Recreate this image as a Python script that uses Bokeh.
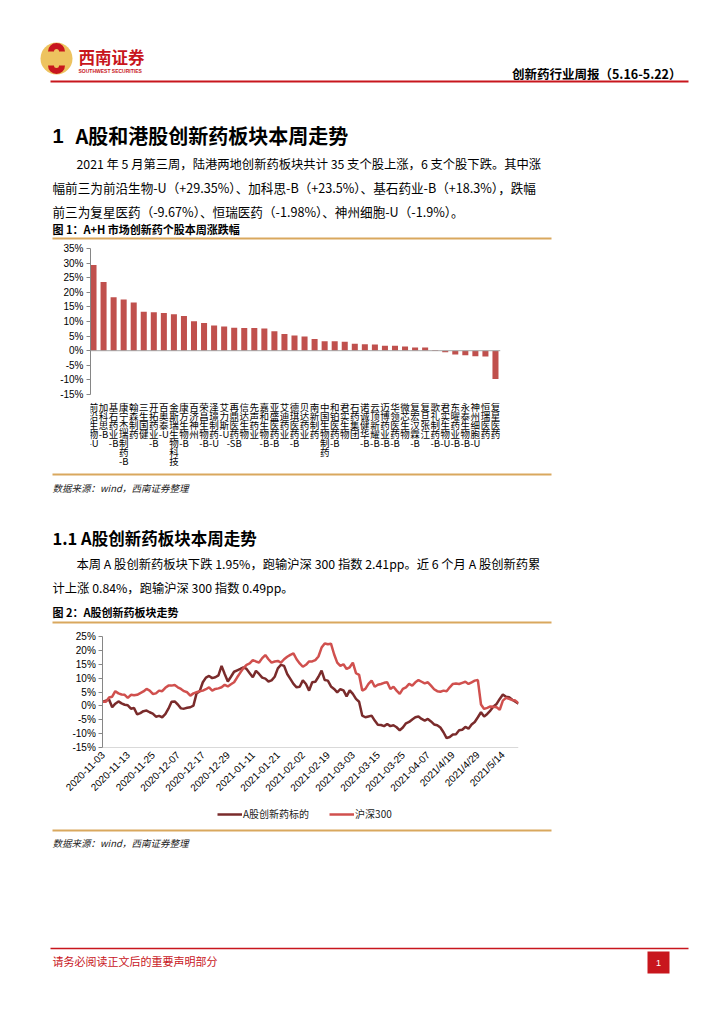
import math
from bokeh.plotting import figure
from bokeh.models import Range1d, FixedTicker, Span, Legend, LegendItem, LabelSet, ColumnDataSource
from bokeh.embed import file_html
from bokeh.resources import INLINE
from bokeh.core.properties import value

CJK = "Noto Sans CJK SC"
LAT = "Liberation Sans"
W = 724

# ---------------- data: figure 1 ----------------
stocks = ["前沿生物-U", "加科思-B", "基石药业-B", "康宁杰瑞制药-B", "翰森制药", "三生国健",
          "开拓药业-B", "百奥泰-U", "金斯瑞生物科技", "康方生物-B", "百济神州", "荣昌生物-B",
          "泽璟制药-U", "艾力斯-U", "再鼎医药-SB", "信达生物", "先声药业", "嘉和生物-B",
          "亚盛医药-B", "艾迪药业", "德琪医药-B", "贝达药业", "南新制药", "中国生物制药",
          "和铂医药-B", "君实生物", "石药集团", "诺诚健华-B", "云顶新耀-B", "迈博药业-B",
          "华领医药-B", "微芯生物", "复宏汉霖-B", "复旦张江", "歌礼制药-B", "君实生物-U",
          "东曜药业-B", "永泰生物-B", "神州细胞-U", "恒瑞医药", "复星医药"]
weekly_chg = [29.35, 23.5, 18.3, 17.5, 16.5, 13.3, 13.2, 12.9, 12.5, 11.9,
              10.1, 9.5, 8.6, 8.3, 7.9, 7.8, 7.8, 7.6, 6.7, 5.7,
              5.2, 4.9, 4.0, 3.2, 3.2, 3.1, 2.4, 2.2, 2.1, 1.7,
              1.7, 1.4, 1.1, 1.1, 0.2, -0.5, -1.3, -1.6, -1.9, -1.98,
              -9.67]
y1_ticks = [-15, -10, -5, 0, 5, 10, 15, 20, 25, 30, 35]

# ---------------- data: figure 2 ----------------
date_labels = ["2020-11-03", "2020-11-13", "2020-11-25", "2020-12-07", "2020-12-17",
               "2020-12-29", "2021-01-11", "2021-01-21", "2021-02-02", "2021-02-19",
               "2021-03-03", "2021-03-15", "2021-03-25", "2021-04-07", "2021/4/19",
               "2021/4/29", "2021/5/14"]
label_every = 8  # trading days between labels
a_share = [1.5, 1.9, 2.3, -0.5, 0.8, 1.6, 0.9, 0.4, 0.2, -1.0,
           -0.8, -3.1, -2.6, -1.9, -1.7, -2.3, -2.8, -3.9, -3.6, -4.1,
           -3.0, -1.0, 1.5, 1.6, 0.5, -0.9, -1.0, -0.7, -0.5, 0.1,
           4.5, 5.3, 8.5, 10.2, 10.8, 10.0, 10.3, 11.0, 14.4, 11.5,
           8.8, 10.5, 12.3, 12.8, 13.3, 13.9, 13.3, 11.8, 10.3, 12.6,
           11.5, 10.2, 9.8, 8.8, 9.2, 10.5, 13.5, 14.8, 14.4, 11.5,
           9.7, 7.9, 6.7, 6.9, 9.2, 7.9, 5.5, 8.5, 8.7, 10.5,
           12.7, 9.3, 9.1, 7.0, 6.1, 4.9, 6.0, 5.6, 3.4, 5.6,
           4.3, 2.5, 1.5, -3.5, -4.1, -3.8, -3.5, -5.3, -6.8, -6.9,
           -7.3, -6.5, -7.3, -7.0, -7.7, -8.8, -7.8, -6.3, -5.8, -4.9,
           -4.1, -3.8, -4.7, -5.3, -4.7, -5.6, -6.7, -7.0, -7.8, -9.5,
           -11.6, -11.2, -10.3, -10.2, -8.8, -8.6, -7.6, -8.2, -6.7, -5.8,
           -4.1, -2.3, -3.8, -2.9, -1.7, -0.2, 0.7, 2.5, 4.1, 3.3,
           3.1, 2.2, 1.5, 0.8]
hs300 = [1.5, 1.5, 3.0, 3.3, 5.3, 4.5, 4.1, 4.0, 2.9, 4.0,
         3.8, 4.0, 4.6, 5.2, 6.1, 5.5, 4.3, 4.5, 5.5, 5.3,
         6.5, 7.3, 7.3, 7.5, 6.7, 6.1, 5.3, 4.9, 3.7, 4.5,
         4.9, 5.3, 5.5, 6.0, 6.7, 5.5, 6.1, 6.3, 6.7, 7.6,
         7.0, 7.8, 8.5, 10.3, 12.0, 13.6, 14.8, 15.3, 16.5, 16.0,
         15.6, 17.2, 18.3, 16.8, 15.6, 16.0, 16.2, 15.6, 16.8, 17.7,
         18.4, 18.9, 16.8, 15.3, 14.1, 14.8, 16.0, 16.0, 16.5, 17.8,
         21.0, 22.5, 22.2, 22.4, 18.6, 15.6, 14.4, 15.0, 13.3, 13.9,
         15.6, 11.8, 11.2, 5.5, 6.1, 7.9, 9.1, 6.9, 7.6, 7.9,
         8.3, 8.5, 6.1, 6.9, 5.5, 4.3, 6.1, 6.7, 7.9, 7.3,
         8.5, 9.3, 8.7, 8.1, 8.5, 7.3, 6.0, 5.3, 5.1, 5.5,
         5.3, 6.7, 7.9, 8.1, 7.9, 8.3, 8.7, 7.9, 8.5, 9.1,
         9.3, 0.5, -1.1, -0.7, -0.2, -0.3, -0.5, -1.4, 1.9, 2.9,
         2.5, 2.1, 1.9, 1.0]
y2_ticks = [-15, -10, -5, 0, 5, 10, 15, 20, 25]
series_names = ["A股创新药标的", "沪深300"]

RED = "#C8161D"
GOLD = "#D9A85E"


def page_fig(top, bottom):
    f = figure(width=W, height=bottom - top, x_range=Range1d(0, W),
               y_range=Range1d(bottom, top), x_axis_type=None, y_axis_type=None,
               toolbar_location=None, output_backend="svg", min_border=0)
    f.outline_line_color = None
    f.grid.visible = False
    return f


def txt(f, x, y, s, size, color="#000000", style="normal", align="left", font=CJK):
    f.text(x=[x], y=[y], text=[s], text_font=value(font), text_font_size=f"{size}px",
           text_font_style=style, text_color=color, text_align=align, text_baseline="middle")


def hline(f, x0, x1, y, color, w):
    f.segment(x0=[x0], y0=[y], x1=[x1], y1=[y], line_color=color, line_width=w)


def style_yaxis(ax, ticks):
    ax.ticker = FixedTicker(ticks=ticks)
    ax.bounds = (min(ticks), max(ticks))
    ax.major_label_overrides = {t: f"{t}%" for t in ticks}
    ax.axis_line_color = "#868686"
    ax.major_tick_line_color = "#868686"
    ax.major_tick_out = 4
    ax.major_tick_in = 0
    ax.minor_tick_line_color = None
    ax.major_label_text_font = LAT
    ax.major_label_text_font_size = "10px"
    ax.major_label_text_color = "#000000"
    ax.major_label_standoff = 3


# ---------------- segment A: header + section 1 text ----------------
A_TOP, A_BOT = 0, 240
fa = page_fig(A_TOP, A_BOT)
fa.circle(x=[56], y=[58], radius=16, fill_color="#EDC35F", line_color=None)
fa.annular_wedge(x=[56], y=[51], inner_radius=2.5, outer_radius=8.5, start_angle=0,
                 end_angle=math.pi, fill_color=RED, line_color=None)
fa.annular_wedge(x=[56], y=[65], inner_radius=2.5, outer_radius=8.5, start_angle=math.pi,
                 end_angle=2 * math.pi, fill_color=RED, line_color=None)
txt(fa, 78, 56, "西南证券", 16.5, RED, "bold")
txt(fa, 78, 70, "SOUTHWEST SECURITIES", 5, RED, "bold", font=LAT)
txt(fa, 681, 73, "创新药行业周报（5.16-5.22）", 12.5, "#000000", "bold", align="right")
hline(fa, 50, 688, 81, RED, 2)
txt(fa, 52, 135, "1", 20, "#000000", "bold", font=LAT)
txt(fa, 75, 135, "A股和港股创新药板块本周走势", 20, "#000000", "bold")
txt(fa, 76, 163, "2021 年 5 月第三周，陆港两地创新药板块共计 35 支个股上涨，6 支个股下跌。其中涨", 12.3)
txt(fa, 52, 187, "幅前三为前沿生物-U（+29.35%）、加科思-B（+23.5%）、基石药业-B（+18.3%），跌幅", 12.6)
txt(fa, 52, 211, "前三为复星医药（-9.67%）、恒瑞医药（-1.98%）、神州细胞-U（-1.9%）。", 12.6)
txt(fa, 52, 228, "图 1：A+H 市场创新药个股本周涨跌幅", 11, "#000000", "bold")
hline(fa, 52, 551, 238, GOLD, 2)

# ---------------- segment B: figure 1 ----------------
idx1 = list(range(len(stocks)))


def vertical(name):
    parts, buf = [], ""
    for ch in name:
        if ord(ch) < 128:
            buf += ch
        else:
            if buf:
                parts.append(buf)
                buf = ""
            parts.append(ch)
    if buf:
        parts.append(buf)
    return "\n".join(parts)


B_TOP, B_BOT = A_BOT, 472
F1_TOP, F1_ZERO15 = 248, 394.0
px1 = (F1_ZERO15 - F1_TOP) / 50.0
y1_start = 35 - (B_BOT - F1_TOP) / px1
p1 = figure(width=W, height=B_BOT - B_TOP, x_range=Range1d(-0.3, 40.5),
            y_range=Range1d(y1_start, 35),
            x_axis_type=None, toolbar_location=None, output_backend="svg",
            min_border_left=90, min_border_right=W - 500, min_border_top=F1_TOP - B_TOP,
            min_border_bottom=0)
p1.outline_line_color = None
p1.grid.visible = False
style_yaxis(p1.yaxis[0], y1_ticks)
p1.add_layout(Span(location=0, dimension="width", line_color="#A6A6A6", line_width=1))
p1.vbar(x=idx1, top=weekly_chg, width=0.6, fill_color="#C0504D", line_color=None)
p1.text(x=idx1, y=[-16.9] * len(idx1), text=[vertical(s) for s in stocks],
        text_font=value(CJK), text_font_size="9.5px", text_align="center",
        text_baseline="top", text_line_height=0.64, text_color="#000000")

# ---------------- segment C: source + section 1.1 text ----------------
C_TOP, C_BOT = B_BOT, 624
fc = page_fig(C_TOP, C_BOT)
hline(fc, 52, 551, 474, GOLD, 2)
txt(fc, 52, 487, "数据来源：wind，西南证券整理", 9.5, "#222222", "italic")
txt(fc, 52, 537, "1.1 A股创新药板块本周走势", 16.5, "#000000", "bold")
txt(fc, 76, 563, "本周 A 股创新药板块下跌 1.95%，跑输沪深 300 指数 2.41pp。近 6 个月 A 股创新药累", 12.3)
txt(fc, 52, 587, "计上涨 0.84%，跑输沪深 300 指数 0.49pp。", 12.3)
txt(fc, 52, 611, "图 2：A股创新药板块走势", 11, "#000000", "bold")
hline(fc, 52, 551, 622, GOLD, 2)

# ---------------- segment D: figure 2 ----------------
D_TOP, D_BOT = C_BOT, 826
F2_FRAME_TOP, F2_Y25, F2_BOT15 = 627, 636, 747.0
F2_LEFT, F2_AXIS, F2_RIGHT = 45, 102.3, 518
idx2 = list(range(len(a_share)))
px2 = (F2_BOT15 - F2_Y25) / 40.0
y2_start = 25 - (D_BOT - F2_Y25) / px2
y2_end = 25 + (F2_Y25 - F2_FRAME_TOP) / px2
pxx = (F2_RIGHT - F2_AXIS) / (idx2[-1] - idx2[0])
x2_start = idx2[0] - (F2_AXIS - F2_LEFT) / pxx
x_ticks = [i * label_every for i in range(len(date_labels))]
p2 = figure(width=W, height=D_BOT - D_TOP, x_range=Range1d(x2_start, idx2[-1]),
            y_range=Range1d(y2_start, y2_end), x_axis_type=None,
            toolbar_location=None, output_backend="svg",
            min_border_left=F2_LEFT, min_border_right=W - F2_RIGHT,
            min_border_top=F2_FRAME_TOP - D_TOP, min_border_bottom=0)
p2.outline_line_color = None
p2.grid.visible = False
style_yaxis(p2.yaxis[0], y2_ticks)
p2.yaxis[0].fixed_location = idx2[0]
p2.segment(x0=[idx2[0]], y0=[min(y2_ticks)], x1=[idx2[-1]], y1=[min(y2_ticks)],
           line_color="#D9D9D9", line_width=1)
tick_src = ColumnDataSource(dict(x=x_ticks, y=[min(y2_ticks) - 5.5 / px2] * len(x_ticks),
                                 text=date_labels))
p2.add_layout(LabelSet(x="x", y="y", text="text", source=tick_src, angle=math.pi / 4,
                       text_align="right", text_baseline="middle",
                       text_font=value(LAT), text_font_size="10px", text_color="#000000"))
r_a = p2.line(idx2, a_share, line_color="#7A2B2B", line_width=2.5)
r_h = p2.line(idx2, hs300, line_color="#D0504E", line_width=2.5)
leg = Legend(items=[LegendItem(label=series_names[0], renderers=[r_a]),
                    LegendItem(label=series_names[1], renderers=[r_h])],
             orientation="horizontal", location=(217 - F2_LEFT, D_BOT - 821))
leg.label_text_font = CJK
leg.label_text_font_size = "10px"
leg.label_text_color = "#222222"
leg.glyph_width = 25
leg.glyph_height = 10
leg.label_height = 10
leg.label_standoff = 1
leg.spacing = 20
leg.padding = 0
leg.margin = 0
leg.border_line_color = None
leg.background_fill_alpha = 0
p2.add_layout(leg, "center")

# ---------------- segment E: source + footer ----------------
E_TOP, E_BOT = D_BOT, 1016
fe = page_fig(E_TOP, E_BOT)
hline(fe, 52, 551, 830, GOLD, 2)
txt(fe, 52, 842, "数据来源：wind，西南证券整理", 9.5, "#222222", "italic")
hline(fe, 50, 688, 948, RED, 1.5)
txt(fe, 52, 960, "请务必阅读正文后的重要声明部分", 11, RED)
fe.quad(left=[647], right=[669], top=[951], bottom=[973], fill_color=RED, line_color=None)
txt(fe, 658, 962, "1", 9, "#FFFFFF", align="center", font=LAT)

open("out.html", "w").write(file_html([fa, p1, fc, p2, fe], INLINE))
